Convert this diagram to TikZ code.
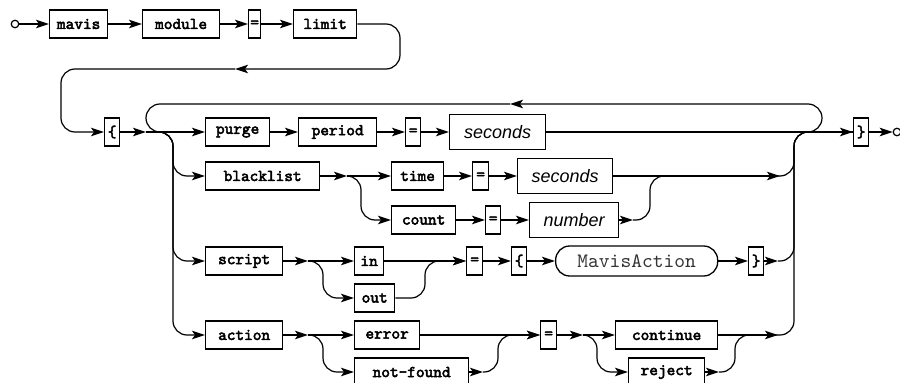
\documentclass[tikz,border=0pt]{standalone}
\usepackage{fontspec}
\setsansfont{Liberation Sans}
\newfontfamily\kwfont{lmmono10-regular.otf}[FakeBold=3]
\newfontfamily\reffont{lmmono10-regular.otf}
\usepackage{tikz}
\usetikzlibrary{arrows.meta}
\tikzstyle{kwbox} = [draw, line width=1.3pt, rectangle, anchor=west,
    minimum height=28pt, inner sep=0pt, font=\kwfont\fontsize{16.5}{16.5}\selectfont]
\tikzstyle{argbox} = [kwbox, minimum height=35pt, font=\sffamily\itshape\fontsize{18}{18}\selectfont]
\tikzstyle{refbox} = [kwbox, rounded corners=14pt, minimum height=30pt, text=black!80,
    font=\reffont\fontsize{20.5}{20.5}\selectfont]
\tikzstyle{rail} = [line width=1.2pt, rounded corners=14pt]
\tikzstyle{endpt} = [draw, circle, line width=1.2pt, inner sep=0pt, minimum size=7.5pt, fill=white]

\begin{document}
\begin{tikzpicture}[x=1pt, y=-1pt, >={Stealth[length=13pt, width=8.5pt, inset=3pt]}]
\useasboundingbox (0,0) rectangle (900,383);

% first line
\node[endpt] (start) at (15,24) {};
\node[kwbox, minimum width=58] (mavis) at (49,24) {mavis};
\node[kwbox, minimum width=77] (module) at (142,24) {module};
\node[kwbox, minimum width=12] (eqa) at (248,24) {=};
\node[kwbox, minimum width=63] (limit) at (293,24) {limit};
\draw[rail,->] (start) -- (mavis.west);
\draw[rail,->] (mavis.east) -- (module.west);
\draw[rail,->] (module.east) -- (eqa.west);
\draw[rail,->] (eqa.east) -- (limit.west);

% main line
\node[kwbox, minimum width=15] (lbr) at (104,132) {\{};
\node[kwbox, minimum width=15] (rbr) at (853,132) {\}};
\node[endpt] (stop) at (897,132) {};

\coordinate (turn) at (400,69);
\coordinate (back) at (235,69);
\coordinate (drop) at (61,69);
\draw[rail,->] (limit.east) -- (limit.east -| turn) -- (turn) -- (back);
\draw[rail,->] (back) -- (drop) -- (drop |- lbr.west) -- (lbr.west);

\coordinate (loopin) at (146,132);
\coordinate (branch) at (173,132);
\coordinate (railtop) at (794,132);
\coordinate (looptop) at (822,104);
\coordinate (loopback) at (510,104);
\draw[rail,->] (lbr.east) -- (loopin);
\draw[rail,->] (rbr.east) -- (stop);
\draw[rail,->] (railtop) -- (looptop |- railtop) -- (looptop) -- (loopback);
\draw[rail] (loopback) -- (loopin |- loopback) -- (loopin) -- (branch);

% purge
\node[kwbox, minimum width=64] (purge) at (205,132) {purge};
\node[kwbox, minimum width=78] (period) at (298,132) {period};
\node[kwbox, minimum width=15] (eqb) at (405,132) {=};
\node[argbox, minimum width=96] (secsa) at (449,132) {seconds};
\draw[rail,->] (loopin) -- (purge.west);
\draw[rail,->] (purge.east) -- (period.west);
\draw[rail,->] (period.east) -- (eqb.west);
\draw[rail,->] (eqb.east) -- (secsa.west);
\draw[rail,->] (secsa.east) -- (rbr.west);

% blacklist
\node[kwbox, minimum width=114] (blacklist) at (205,176) {blacklist};
\node[kwbox, minimum width=52] (time) at (391,176) {time};
\node[kwbox, minimum width=16] (eqc) at (472,176) {=};
\node[argbox, minimum width=95] (secsb) at (517,176) {seconds};
\node[kwbox, minimum width=64] (count) at (391,220) {count};
\node[kwbox, minimum width=15] (eqd) at (485,220) {=};
\node[argbox, minimum width=89] (number) at (529,220) {number};
\coordinate (bsplit) at (347,176);
\coordinate (bdown) at (361,176);
\coordinate (cout) at (633,220);
\coordinate (cup) at (650,176);
\coordinate (bjoin) at (780,176);
\draw[rail,->] (loopin) -- (branch) -- (branch |- blacklist.west) -- (blacklist.west);
\draw[rail,->] (blacklist.east) -- (bsplit);
\draw[rail,->] (bsplit) -- (time.west);
\draw[rail,->] (bsplit) -- (bdown) -- (bdown |- count.west) -- (count.west);
\draw[rail,->] (time.east) -- (eqc.west);
\draw[rail,->] (eqc.east) -- (secsb.west);
\draw[rail,->] (count.east) -- (eqd.west);
\draw[rail,->] (eqd.east) -- (number.west);
\draw[rail,->] (number.east) -- (cout);
\draw[rail] (cout) -- (cup |- cout) -- (cup) -- (bjoin);
\draw[rail,->] (secsb.east) -- (bjoin);
\draw[rail] (bjoin) -- (railtop |- bjoin) -- (railtop) -- (rbr.west);

% script
\node[kwbox, minimum width=77] (script) at (205,261) {script};
\node[kwbox, minimum width=29] (in) at (354,261) {in};
\node[kwbox, minimum width=40] (out) at (354,298) {out};
\node[kwbox, minimum width=16] (eqe) at (466,261) {=};
\node[kwbox, minimum width=15] (lbrb) at (511,261) {\{};
\node[refbox, minimum width=162] (mavisaction) at (555,261) {MavisAction};
\node[kwbox, minimum width=15] (rbrb) at (748,261) {\}};
\coordinate (ssplit) at (308,261);
\coordinate (sdown) at (323,261);
\coordinate (oup) at (425,261);
\coordinate (sjoin) at (778,261);
\draw[rail,->] (loopin) -- (branch) -- (branch |- script.west) -- (script.west);
\draw[rail,->] (script.east) -- (ssplit);
\draw[rail,->] (ssplit) -- (in.west);
\draw[rail,->] (ssplit) -- (sdown) -- (sdown |- out.west) -- (out.west);
\draw[rail,->] (in.east) -- (eqe.west);
\draw[rail,->] (out.east) -- (oup |- out.east) -- (oup) -- (eqe.west);
\draw[rail,->] (eqe.east) -- (lbrb.west);
\draw[rail,->] (lbrb.east) -- (mavisaction.west);
\draw[rail,->] (mavisaction.east) -- (rbrb.west);
\draw[rail,->] (rbrb.east) -- (sjoin);
\draw[rail] (sjoin) -- (railtop |- sjoin) -- (railtop) -- (rbr.west);

% action
\node[kwbox, minimum width=77] (action) at (205,335) {action};
\node[kwbox, minimum width=65] (error) at (354,335) {error};
\node[kwbox, minimum width=114] (notfound) at (354,372) {not-found};
\node[kwbox, minimum width=16] (eqf) at (540,335) {=};
\node[kwbox, minimum width=102] (continue) at (615,335) {continue};
\node[kwbox, minimum width=76] (reject) at (628,372) {reject};
\coordinate (asplit) at (308,335);
\coordinate (adown) at (323,335);
\coordinate (nout) at (483,372);
\coordinate (nup) at (498,335);
\coordinate (esplit) at (583,335);
\coordinate (edown) at (597,335);
\coordinate (rout) at (719,372);
\coordinate (rup) at (735,335);
\coordinate (ajoin) at (778,335);
\draw[rail,->] (loopin) -- (branch) -- (branch |- action.west) -- (action.west);
\draw[rail,->] (action.east) -- (asplit);
\draw[rail,->] (asplit) -- (error.west);
\draw[rail,->] (asplit) -- (adown) -- (adown |- notfound.west) -- (notfound.west);
\draw[rail,->] (error.east) -- (eqf.west);
\draw[rail,->] (notfound.east) -- (nout);
\draw[rail,->] (nout) -- (nup |- nout) -- (nup) -- (eqf.west);
\draw[rail,->] (eqf.east) -- (esplit);
\draw[rail,->] (esplit) -- (continue.west);
\draw[rail,->] (esplit) -- (edown) -- (edown |- reject.west) -- (reject.west);
\draw[rail,->] (reject.east) -- (rout);
\draw[rail] (rout) -- (rup |- rout) -- (rup) -- (ajoin);
\draw[rail,->] (continue.east) -- (ajoin);
\draw[rail] (ajoin) -- (railtop |- ajoin) -- (railtop) -- (rbr.west);
\end{tikzpicture}
\end{document}
